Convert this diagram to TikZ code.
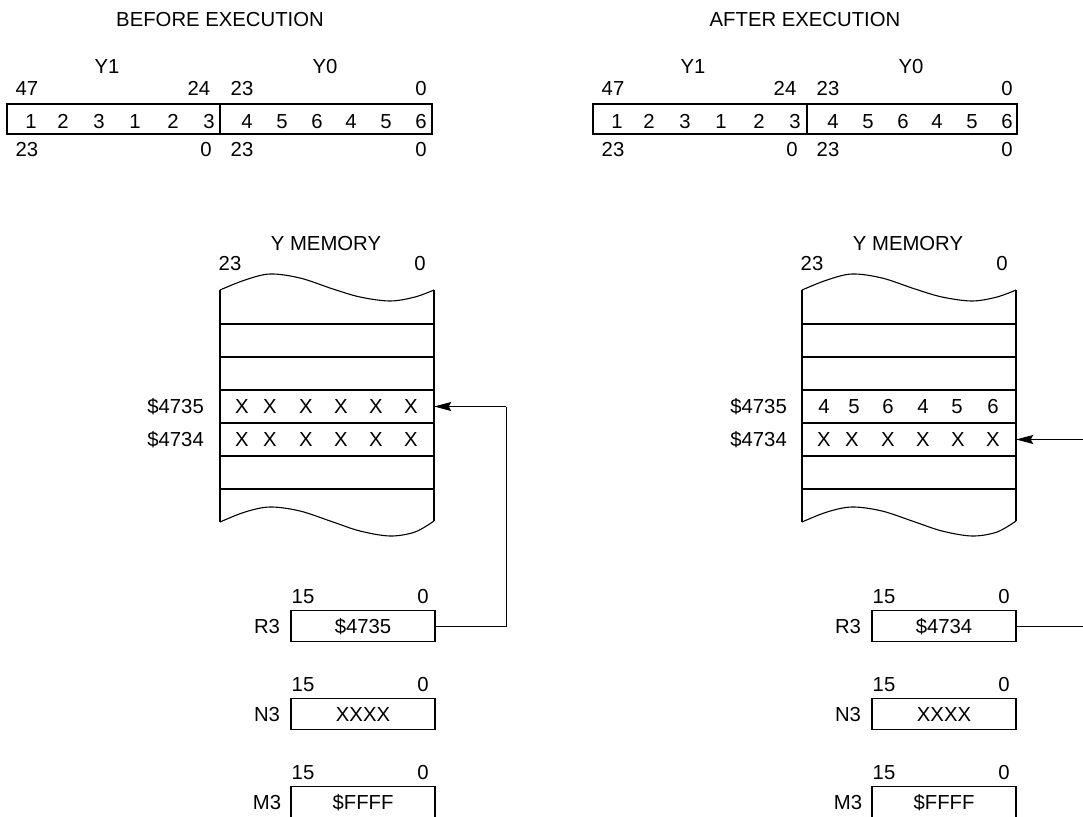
\documentclass[tikz,border=0pt]{standalone}
\usepackage{fontspec}
\setmainfont{Liberation Sans}
\usetikzlibrary{arrows.meta}
\begin{document}
\begin{tikzpicture}[x=1pt,y=-1pt,
  font=\fontsize{20.3}{24}\selectfont,
  lbl/.style={anchor=base, inner sep=0pt, yshift=-7.3pt},
  half/.style={draw, line width=1.1pt, minimum height=30pt, inner sep=0pt},
  reg/.style={draw, line width=1.1pt, minimum width=144pt, minimum height=31pt, inner sep=0pt, text height=14.6pt, text depth=0pt},
  row/.style={minimum width=214pt, minimum height=33pt, inner sep=0pt},
  frame/.style={line width=1.1pt},
  wire/.style={line width=1pt},
  arr/.style={line width=1pt, -{Stealth[length=17pt,width=9pt,inset=2.5pt]}}]
\clip (0,0) rectangle (1083,816);

% ---------------- BEFORE ----------------
\node[lbl] (titleL) at (220,19) {BEFORE EXECUTION};
\node[lbl] (y1labL) at (107,66) {Y1};
\node[lbl] (y0labL) at (325,66) {Y0};
\node[lbl] (t47L) at (27,88) {47};
\node[lbl] (t24L) at (199,88) {24};
\node[lbl] (t23L) at (242,88) {23};
\node[lbl] (t0L) at (421,88) {0};
\node[half, minimum width=213pt] (y1L) at (113.5,119) {};
\node[half, minimum width=212pt] (y0L) at (326,119) {};
\foreach \x/\d in {31/1,63/2,99/3,135/1,173/2,209/3,247/4,282/5,317/6,351/4,386/5,421/6}
  \node[lbl] (dL\x) at (\x,121) {\d};
\node[lbl] (b23aL) at (27,149) {23};
\node[lbl] (b0aL) at (206,149) {0};
\node[lbl] (b23bL) at (242,149) {23};
\node[lbl] (b0bL) at (421,149) {0};

% memory (left)
\node[lbl] (ymemL) at (326,243) {Y MEMORY};
\node[lbl] (m23L) at (230,263) {23};
\node[lbl] (m0L) at (420,263) {0};
\draw[frame] plot[smooth, tension=0.55] coordinates {(220,290) (245,280) (270,274) (300,278) (333,289) (360,297) (390,301) (415,297) (434,290)};
\draw[frame] plot[smooth, tension=0.55] coordinates {(220,522) (245,512) (270,507) (300,511) (333,522) (360,531) (390,536) (415,532) (434,521)};
\draw[frame] (220,290) -- (220,522);
\draw[frame] (434,290) -- (434,521);
\foreach \y in {324,357,390,423,456,489} \draw[frame] (220,\y) -- (434,\y);
\node[row] (rAL) at (327,406.5) {};
\node[row] (rBL) at (327,439.5) {};
\node[lbl, anchor=base east] (a35L) at (204,406.5) {\$4735};
\node[lbl, anchor=base east] (a34L) at (204,439.5) {\$4734};
\foreach \x in {242,270,306,341,376,411} {
  \node[lbl] (xaL\x) at (\x,406.5) {X};
  \node[lbl] (xbL\x) at (\x,439.5) {X};
}

% registers (left)
\node[lbl] (r15L) at (303,596) {15};
\node[lbl] (r0L) at (423,596) {0};
\node[lbl] (rnL) at (267,626) {R3};
\node[reg] (r3L) at (363,626) {\$4735};
\node[lbl] (n15L) at (303,684) {15};
\node[lbl] (n0L) at (423,684) {0};
\node[lbl] (nnL) at (267,714) {N3};
\node[reg] (n3L) at (363,714) {XXXX};
\node[lbl] (mm15L) at (303,772) {15};
\node[lbl] (mm0L) at (423,772) {0};
\node[lbl] (mnL) at (267,802) {M3};
\node[reg] (m3L) at (363,802) {\$FFFF};

\coordinate (jL) at (506,406.5);
\draw[wire] (r3L.east) -| (jL);
\draw[arr] (jL) -- (rAL.east);

% ---------------- AFTER ----------------
\node[lbl] (titleR) at (805,19) {AFTER EXECUTION};
\node[lbl] (y1labR) at (693,66) {Y1};
\node[lbl] (y0labR) at (911,66) {Y0};
\node[lbl] (t47R) at (613,88) {47};
\node[lbl] (t24R) at (785,88) {24};
\node[lbl] (t23R) at (828,88) {23};
\node[lbl] (t0R) at (1007,88) {0};
\node[half, minimum width=214pt] (y1R) at (700,119) {};
\node[half, minimum width=210pt] (y0R) at (912,119) {};
\foreach \x/\d in {31/1,63/2,99/3,135/1,173/2,209/3,247/4,282/5,317/6,351/4,386/5,421/6}
  \node[lbl] (dR\x) at (\x+586,121) {\d};
\node[lbl] (b23aR) at (613,149) {23};
\node[lbl] (b0aR) at (792,149) {0};
\node[lbl] (b23bR) at (828,149) {23};
\node[lbl] (b0bR) at (1007,149) {0};

\begin{scope}[xshift=582pt]
\node[lbl] (ymemR) at (326,243) {Y MEMORY};
\node[lbl] (m23R) at (230,263) {23};
\node[lbl] (m0R) at (420,263) {0};
\draw[frame] plot[smooth, tension=0.55] coordinates {(220,290) (245,280) (270,274) (300,278) (333,289) (360,297) (390,301) (415,297) (434,290)};
\draw[frame] plot[smooth, tension=0.55] coordinates {(220,522) (245,512) (270,507) (300,511) (333,522) (360,531) (390,536) (415,532) (434,521)};
\draw[frame] (220,290) -- (220,522);
\draw[frame] (434,290) -- (434,521);
\foreach \y in {324,357,390,423,456,489} \draw[frame] (220,\y) -- (434,\y);
\node[row] (rAR) at (327,406.5) {};
\node[row] (rBR) at (327,439.5) {};
\node[lbl, anchor=base east] (a35R) at (205,406.5) {\$4735};
\node[lbl, anchor=base east] (a34R) at (205,439.5) {\$4734};
\foreach \x/\d in {242/4,272/5,306/6,341/4,375/5,411/6}
  \node[lbl] (vaR\x) at (\x,406.5) {\d};
\foreach \x in {242,270,306,341,376,411}
  \node[lbl] (xbR\x) at (\x,439.5) {X};
\end{scope}

\begin{scope}[xshift=581pt]
\node[lbl] (r15R) at (303,596) {15};
\node[lbl] (r0R) at (423,596) {0};
\node[lbl] (rnR) at (267,626) {R3};
\node[reg] (r3R) at (363,626) {\$4734};
\node[lbl] (n15R) at (303,684) {15};
\node[lbl] (n0R) at (423,684) {0};
\node[lbl] (nnR) at (267,714) {N3};
\node[reg] (n3R) at (363,714) {XXXX};
\node[lbl] (mm15R) at (303,772) {15};
\node[lbl] (mm0R) at (423,772) {0};
\node[lbl] (mnR) at (267,802) {M3};
\node[reg] (m3R) at (363,802) {\$FFFF};
\end{scope}

\coordinate (eR1) at (1095,626);
\coordinate (eR2) at (1095,439.5);
\draw[wire] (r3R.east) -- (eR1);
\draw[arr] (eR2) -- (rBR.east);
\end{tikzpicture}
\end{document}
